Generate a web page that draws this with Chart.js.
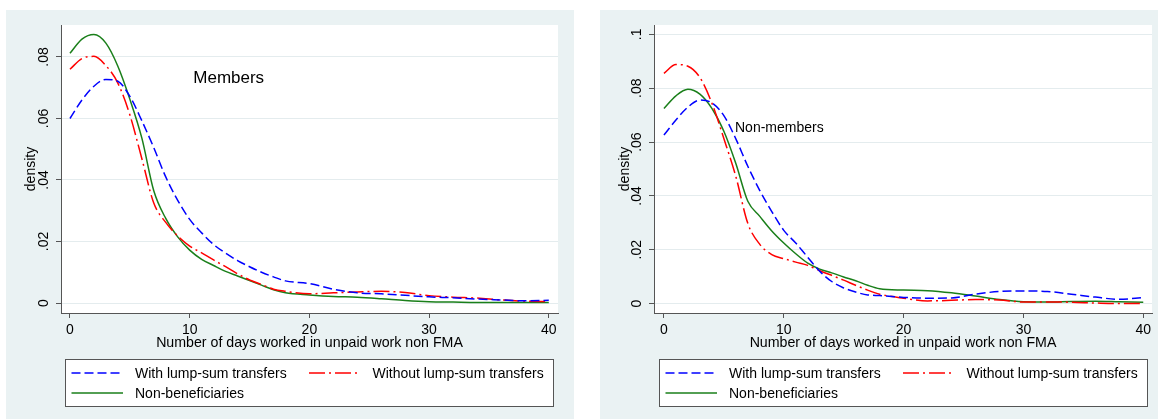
<!DOCTYPE html>
<html>
<head>
<meta charset="utf-8">
<script src="https://cdn.jsdelivr.net/npm/chart.js@4.4.0/dist/chart.umd.min.js"></script>
<style>
  body { margin: 0; background: #fff; width: 1158px; height: 419px; position: relative; overflow: hidden; }
  .panel { position: absolute; top: 10px; height: 409px; background: #eaf2f3; }
  .panel canvas { display: block; }
  #p1 { left: 6px; width: 568px; }
  #p2 { left: 600px; width: 558px; }
</style>
</head>
<body>
<div class="panel" id="p1"><canvas id="members" width="568" height="409"></canvas></div>
<div class="panel" id="p2"><canvas id="nonmembers" width="558" height="409"></canvas></div>
<script>
// days on the x axis (kernel density)
const days = [0, 1, 2, 3, 4, 5, 6, 7, 8, 9, 10, 11, 12, 13, 14, 15, 16, 17, 18, 20, 22, 24, 26, 28, 30, 32, 34, 36, 38, 40];

// Members panel
const membersWith = [0.0600, 0.0660, 0.0705, 0.0727, 0.0721, 0.0672, 0.0593, 0.0505, 0.0410, 0.0334, 0.0272, 0.0228, 0.0190, 0.0162, 0.0138, 0.0118, 0.0100, 0.0085, 0.0072, 0.0063, 0.0045, 0.0033, 0.0030, 0.0025, 0.0020, 0.0017, 0.0013, 0.0010, 0.0007, 0.0009];
const membersWithout = [0.0760, 0.0795, 0.0802, 0.0772, 0.0715, 0.0612, 0.0470, 0.0325, 0.0262, 0.0218, 0.0185, 0.0163, 0.0140, 0.0118, 0.0095, 0.0075, 0.0060, 0.0045, 0.0038, 0.0030, 0.0033, 0.0036, 0.0038, 0.0034, 0.0024, 0.0019, 0.0016, 0.0010, 0.0006, 0.0005];
const membersNonBen = [0.0812, 0.0858, 0.0873, 0.0845, 0.0770, 0.0663, 0.0537, 0.0365, 0.0275, 0.0215, 0.0172, 0.0142, 0.0122, 0.0103, 0.0088, 0.0073, 0.0058, 0.0043, 0.0033, 0.0026, 0.0021, 0.0019, 0.0014, 0.0008, 0.0004, 0.0003, 0.0002, 0.0002, 0.0002, 0.0002];

// Non-members panel
const nonMembersWith = [0.0626, 0.0682, 0.0730, 0.0756, 0.0746, 0.0698, 0.0612, 0.0510, 0.0420, 0.0342, 0.0272, 0.0225, 0.0172, 0.0120, 0.0082, 0.0058, 0.0043, 0.0032, 0.0030, 0.0023, 0.0020, 0.0021, 0.0035, 0.0045, 0.0047, 0.0045, 0.0035, 0.0024, 0.0016, 0.0022];
const nonMembersWithout = [0.0855, 0.0888, 0.0882, 0.0840, 0.0745, 0.0613, 0.0472, 0.0298, 0.0220, 0.0182, 0.0167, 0.0154, 0.0142, 0.0122, 0.0105, 0.0087, 0.0068, 0.0050, 0.0035, 0.0020, 0.0010, 0.0012, 0.0015, 0.0013, 0.0006, 0.0006, 0.0005, 0.0002, 0.0000, 0.0000];
const nonMembersNonBen = [0.0725, 0.0772, 0.0796, 0.0778, 0.0725, 0.0640, 0.0520, 0.0380, 0.0324, 0.0270, 0.0225, 0.0185, 0.0150, 0.0128, 0.0114, 0.0099, 0.0085, 0.0068, 0.0055, 0.0050, 0.0048, 0.0040, 0.0028, 0.0015, 0.0007, 0.0006, 0.0008, 0.0009, 0.0007, 0.0005];

const seriesLabels = ["With lump-sum transfers", "Without lump-sum transfers", "Non-beneficiaries"];
const xTicks = [0, 10, 20, 30, 40];
const yTicksMembers = [0, 0.02, 0.04, 0.06, 0.08];
const yTicksNonMembers = [0, 0.02, 0.04, 0.06, 0.08, 0.1];
const xTitle = "Number of days worked in unpaid work non FMA";
const yTitle = "density";

Chart.defaults.font.family = "'Liberation Sans', Arial, sans-serif";
Chart.defaults.font.size = 14;
Chart.defaults.color = "#000";

const FONT = "'Liberation Sans', Arial, sans-serif";

// white plot region, panel label and the boxed two-column legend
const stataLook = {
    id: "stataLook",
    beforeDraw(chart) {
        const ctx = chart.ctx;
        const a = chart.chartArea;
        ctx.save();
        ctx.fillStyle = "#fff";
        ctx.fillRect(a.left, a.top, a.right - a.left, a.bottom - a.top);
        ctx.restore();
    },
    afterDraw(chart, args, opts) {
        const ctx = chart.ctx;
        ctx.save();
        // label inside the plot
        const nx = chart.scales.x.getPixelForValue(opts.note.x);
        const ny = chart.scales.y.getPixelForValue(opts.note.y);
        ctx.font = opts.note.size + "px " + FONT;
        ctx.fillStyle = "#000";
        ctx.textAlign = "left";
        ctx.textBaseline = "middle";
        ctx.fillText(opts.note.text, nx, ny);

        // legend
        const b = opts.box;
        ctx.fillStyle = "#fff";
        ctx.fillRect(b.left, b.top, b.width, b.height);
        ctx.strokeStyle = "#555";
        ctx.lineWidth = 1;
        ctx.strokeRect(b.left + 0.5, b.top + 0.5, b.width, b.height);
        ctx.font = "14px " + FONT;
        chart.data.datasets.forEach(function (ds, i) {
            const col = i % 2;
            const row = Math.floor(i / 2);
            const x0 = b.left + (col === 0 ? 6.5 : 244);
            const y = b.top + 14 + row * 20;
            ctx.strokeStyle = ds.borderColor;
            ctx.lineWidth = ds.borderWidth;
            ctx.setLineDash(ds.borderDash || []);
            ctx.beginPath();
            ctx.moveTo(x0, y);
            ctx.lineTo(x0 + 51.5, y);
            ctx.stroke();
            ctx.setLineDash([]);
            ctx.fillStyle = "#000";
            ctx.fillText(ds.label, x0 + 63.5, y + 1);
        });
        ctx.restore();
    }
};

function makeSeries(vals) {
    return days.map(function (d, i) { return { x: d, y: vals[i] }; });
}

function tickText(v) {
    if (v === 0) return "0";
    return String(+v.toFixed(2)).replace(/^0\./, ".");
}

function makeChart(id, withVals, withoutVals, nonBenVals, yTicks, cfg) {
    const datasets = [
        { label: seriesLabels[0], data: makeSeries(withVals), borderColor: "#0000ff", borderWidth: 1.5, borderDash: [9, 4] },
        { label: seriesLabels[1], data: makeSeries(withoutVals), borderColor: "#ff0000", borderWidth: 1.5, borderDash: [16, 4, 2, 4] },
        { label: seriesLabels[2], data: makeSeries(nonBenVals), borderColor: "#1a7f1a", borderWidth: 1.5 }
    ];
    datasets.forEach(function (ds) {
        ds.pointRadius = 0;
        ds.fill = false;
        ds.cubicInterpolationMode = "monotone";
    });
    return new Chart(document.getElementById(id), {
        type: "line",
        data: { datasets: datasets },
        plugins: [stataLook],
        options: {
            responsive: false,
            animation: false,
            layout: { padding: { left: 0, top: 15, right: cfg.padRight, bottom: 67 } },
            plugins: {
                legend: { display: false },
                tooltip: { enabled: false },
                stataLook: {
                    note: cfg.note,
                    box: { left: 59, top: 349, width: 488, height: 47 }
                }
            },
            scales: {
                x: {
                    type: "linear",
                    min: cfg.xMin,
                    max: cfg.xMax,
                    afterBuildTicks: function (s) { s.ticks = xTicks.map(function (v) { return { value: v }; }); },
                    afterFit: function (s) { s.height = 39; },
                    ticks: { autoSkip: false, maxRotation: 0, padding: 4, color: "#000", font: { size: 14 } },
                    grid: { drawOnChartArea: false, drawTicks: true, tickLength: 5, tickColor: "#555" },
                    border: { color: "#555", width: 1 },
                    title: { display: true, text: xTitle, color: "#000", font: { size: 14.2 }, padding: { top: 0, bottom: 0 } }
                },
                y: {
                    type: "linear",
                    min: cfg.yMin,
                    max: cfg.yMax,
                    afterBuildTicks: function (s) { s.ticks = yTicks.map(function (v) { return { value: v }; }); },
                    afterFit: function (s) { s.width = cfg.yWidth; },
                    ticks: {
                        autoSkip: false, minRotation: 90, maxRotation: 90, crossAlign: "center", padding: 2,
                        color: "#000", font: { size: 14 },
                        callback: function (v) { return tickText(v); }
                    },
                    grid: { color: "#e4ecee", lineWidth: 1, drawTicks: true, tickLength: 5, tickColor: "#555" },
                    border: { color: "#555", width: 1 },
                    title: { display: true, text: yTitle, color: "#000", font: { size: 14 }, padding: { top: 16.6, bottom: 0 } }
                }
            }
        }
    });
}

makeChart("members", membersWith, membersWithout, membersNonBen, yTicksMembers, {
    xMin: -0.75, xMax: 40.77, yMin: -0.00325, yMax: 0.0904, yWidth: 55, padRight: 16,
    note: { text: "Members", x: 10.3, y: 0.0732, size: 17 }
});
makeChart("nonmembers", nonMembersWith, nonMembersWithout, nonMembersNonBen, yTicksNonMembers, {
    xMin: -0.83, xMax: 40.73, yMin: -0.0035, yMax: 0.1035, yWidth: 54, padRight: 6,
    note: { text: "Non-members", x: 5.93, y: 0.0653, size: 14 }
});
</script>
</body>
</html>
